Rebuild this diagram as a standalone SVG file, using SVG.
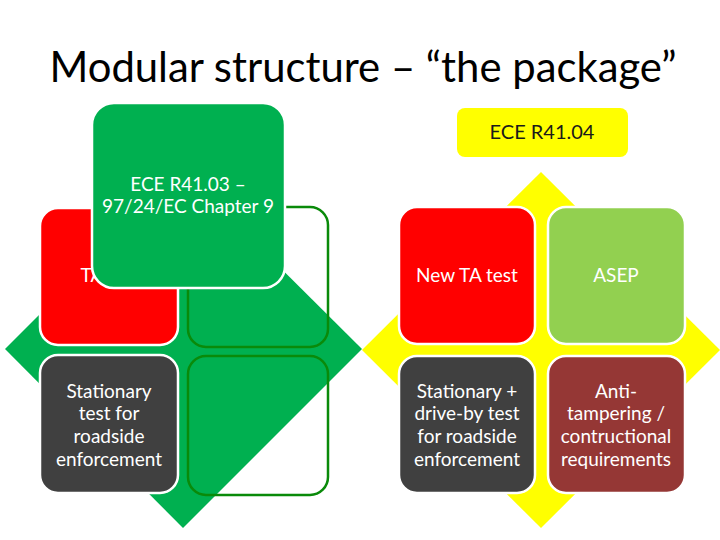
<svg xmlns="http://www.w3.org/2000/svg" width="720" height="540" viewBox="0 0 720 540">
<style>
.t{font-family:Lato,"Open Sans","Liberation Sans",sans-serif;font-size:19px;fill:#fff;text-anchor:middle}
.box{stroke:#fff;stroke-width:2.5}
.out{fill:none;stroke:#0a8a0a;stroke-width:2.5}
</style>
<rect width="720" height="540" fill="#fff"/>
<text x="363" y="82" font-family="Lato,'Open Sans','Liberation Sans',sans-serif" font-size="42" fill="#000" text-anchor="middle" textLength="627" lengthAdjust="spacingAndGlyphs">Modular structure – “the package”</text>
<g id="connectors">
<polygon points="183,171 362,349 183,528 5,349" fill="#00b050"/>
<polygon points="541,172 720,350 541,528 362,350" fill="#ffff00"/>
</g>
<g id="ta"><rect class="box" x="40" y="208" width="138" height="137" rx="18" fill="#ff0000"/><text class="t" x="110" y="282">TA test</text></g>
<g id="stationary"><rect class="box" x="40" y="355" width="138" height="138" rx="18" fill="#404040"/>
<text class="t" x="109" y="398">Stationary</text><text class="t" x="109" y="420">test for</text><text class="t" x="109" y="443">roadside</text><text class="t" x="109" y="466">enforcement</text></g>
<g id="empty1"><rect class="out" x="188" y="207" width="140" height="140" rx="18"/></g>
<g id="empty2"><rect class="out" x="188" y="356" width="140" height="139" rx="18"/></g>
<g id="r4103"><rect class="box" x="92" y="103" width="193" height="185" rx="22" fill="#00b050"/>
<text class="t" x="188" y="191">ECE R41.03 –</text><text class="t" x="188" y="213">97/24/EC Chapter 9</text></g>
<g id="r4104"><rect x="457" y="108" width="171" height="49" rx="8" fill="#ffff00"/>
<text class="t" x="542" y="139" style="fill:#1a1a1a;font-size:20px">ECE R41.04</text></g>
<g id="newta"><rect class="box" x="399" y="207" width="136" height="137" rx="18" fill="#ff0000"/><text class="t" x="467" y="282">New TA test</text></g>
<g id="asep"><rect class="box" x="548" y="207" width="137" height="137" rx="18" fill="#92d050"/><text class="t" x="616" y="282">ASEP</text></g>
<g id="stationary2"><rect class="box" x="399" y="356" width="136" height="137" rx="18" fill="#404040"/>
<text class="t" x="467" y="398">Stationary +</text><text class="t" x="467" y="420">drive-by test</text><text class="t" x="467" y="443">for roadside</text><text class="t" x="467" y="466">enforcement</text></g>
<g id="antitamper"><rect class="box" x="548" y="356" width="137" height="137" rx="18" fill="#953735"/>
<text class="t" x="616" y="398">Anti-</text><text class="t" x="616" y="420">tampering /</text><text class="t" x="616" y="443">contructional</text><text class="t" x="616" y="466">requirements</text></g>
</svg>
